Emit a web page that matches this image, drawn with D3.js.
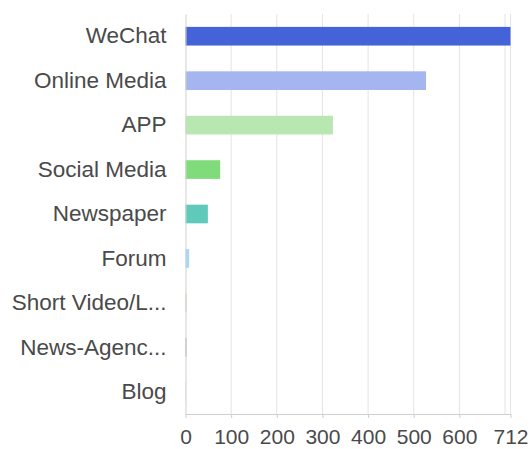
<!DOCTYPE html>
<html>
<head>
<meta charset="utf-8">
<script src="https://cdn.jsdelivr.net/npm/d3@7"></script>
<style>
  body { margin: 0; background: #fff; }
  text { font-family: "Liberation Sans", Arial, sans-serif; }
</style>
</head>
<body>
<div id="vis"></div>
<script>
const categories = ['WeChat', 'Online Media', 'APP', 'Social Media', 'Newspaper', 'Forum', 'Short Video/L...', 'News-Agenc...', 'Blog']
const counts = [712, 527, 323, 76, 49, 8, 2, 2, 1]
const barColors = ['#4563d8', '#a5b5f0', '#b9e7b2', '#80dc7b', '#5fcab9', '#a3d9f7', '#cfc79a', '#93a4b8', '#d9d9d9']
const tickValues = [0, 100, 200, 300, 400, 500, 600, 712]
const gridValues = [0, 100, 200, 300, 400, 500, 600, 700, 712]

const W = 531, H = 449
const margin = {top: 14, right: 20, bottom: 35, left: 185.5}
const width = 510.5 - margin.left
const height = H - margin.top - margin.bottom

const svg = d3.select('#vis')
    .append('svg')
    .attr('width', W)
    .attr('height', H)
    .append('g')
    .attr('transform', `translate(${margin.left},${margin.top})`)

const data = categories.map((c, i) => ({name: c, count: counts[i], color: barColors[i]}))

let xScale = d3.scaleLinear()
    .domain([0, 712])
    .range([0, width])

let yScale = d3.scaleBand()
    .domain(categories)
    .range([0, height])
    .paddingInner(0.58)
    .paddingOuter(0.29)

// vertical grid lines
svg.selectAll('.grid')
    .data(gridValues.slice(1))
    .join('line')
    .attr('class', 'grid')
    .attr('x1', d => xScale(d))
    .attr('x2', d => xScale(d))
    .attr('y1', 0)
    .attr('y2', height)
    .attr('stroke', '#e4e4e4')
    .attr('stroke-width', 1)

svg.selectAll('.bar')
    .data(data)
    .join('rect')
    .attr('class', 'bar')
    .attr('x', 0)
    .attr('y', d => yScale(d.name))
    .attr('width', d => xScale(d.count))
    .attr('height', yScale.bandwidth())
    .attr('fill', d => d.color)

// x axis
let xAxis = svg.append('g')
    .attr('transform', `translate(0,${height})`)
    .call(d3.axisBottom(xScale).tickValues(tickValues).tickSize(4).tickSizeOuter(0).tickPadding(11))
xAxis.select('.domain').attr('stroke', '#cfcfcf')
xAxis.selectAll('.tick line').attr('stroke', '#cfcfcf')
xAxis.selectAll('.tick text')
    .attr('fill', '#4a4a4a')
    .style('font-size', '21px')

// left axis line + labels
let yAxis = svg.append('g')
    .call(d3.axisLeft(yScale).tickSize(0).tickPadding(19))
yAxis.select('.domain').attr('stroke', '#cfcfcf')
yAxis.selectAll('.tick text')
    .attr('fill', '#4a4a4a')
    .style('font-size', '22.5px')
</script>
</body>
</html>
